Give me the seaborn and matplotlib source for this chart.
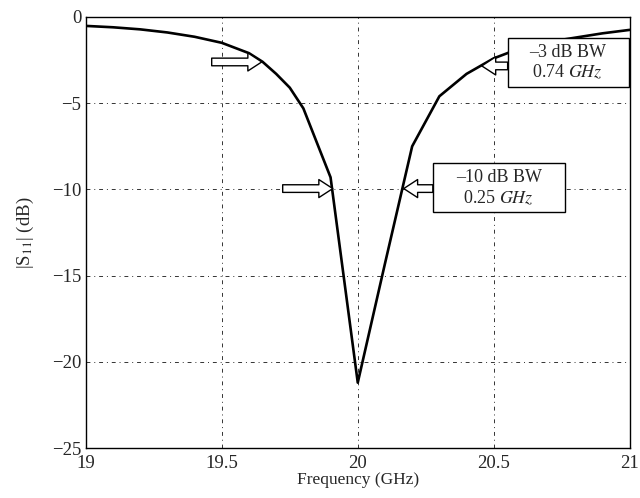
import numpy as np
import pandas as pd
import matplotlib
matplotlib.use('Agg')
import matplotlib.pyplot as plt
import seaborn as sns
from matplotlib.patches import Rectangle

# S11 response
freq = [19.0, 19.1, 19.2, 19.3, 19.4, 19.5, 19.6, 19.65, 19.7, 19.75, 19.8, 19.9,
        20.0, 20.1, 20.2, 20.3, 20.4, 20.5, 20.6, 20.7, 20.8, 20.9, 21.0]
s11 = [-0.52, -0.6, -0.72, -0.9, -1.15, -1.5, -2.1, -2.6, -3.3, -4.1, -5.3, -9.3,
       -21.2, -14.3, -7.5, -4.6, -3.3, -2.4, -1.8, -1.45, -1.2, -0.95, -0.75]
xticks = [19, 19.5, 20, 20.5, 21]
yticks = [0, -5, -10, -15, -20, -25]

df = pd.DataFrame({'Frequency': freq, 'S11': s11})

sns.set_style('white')
plt.rcParams['font.family'] = ['Liberation Serif', 'DejaVu Serif']
plt.rcParams['mathtext.fontset'] = 'stix'

fig, ax = plt.subplots(figsize=(6.4, 4.98), dpi=100)
fig.subplots_adjust(left=0.134, right=0.984, top=0.966, bottom=0.1)

sns.lineplot(data=df, x='Frequency', y='S11', ax=ax, color='black', lw=1.9)

ax.set_xlim(19, 21)
ax.set_ylim(-25, 0)
ax.set_xticks(xticks)
ax.set_xticklabels(['19', '19.5', '20', '20.5', '21'])
ax.set_yticks(yticks)
ax.set_yticklabels(['0', '\u22125', '\u221210', '\u221215', '\u221220', '\u221225'])
ax.tick_params(direction='in', length=5, labelsize=13.5, color='black',
               top=False, right=False)
ax.tick_params(axis='x', pad=5)
ax.tick_params(axis='y', pad=3)
ax.grid(True, linestyle=(0, (4, 4, 1, 4)), color='#333333', lw=0.7)
for sp in ax.spines.values():
    sp.set_color('black')
    sp.set_linewidth(1.0)

ax.set_xlabel('Frequency (GHz)', fontsize=12.5, labelpad=0)
ax.set_ylabel(r'|S$_{11}$| (dB)', fontsize=13.5, labelpad=12)

arrow = dict(arrowstyle='simple,head_width=1.3,head_length=1.0,tail_width=0.55',
             fc='white', ec='black', lw=1.0, shrinkA=0, shrinkB=0)

# plain arrows on the left skirt
ax.annotate('', xy=(19.647, -2.61), xytext=(19.463, -2.61), arrowprops=arrow)
ax.annotate('', xy=(19.908, -9.95), xytext=(19.724, -9.95), arrowprops=arrow)

# boxed labels on the right skirt
ax.add_patch(Rectangle((20.551, -4.06), 0.445, 2.84, fc='white', ec='black', lw=1.0, zorder=4))
ax.text(20.772, -2.63, '\u20133 dB BW\n0.74 $\\mathit{GHz}$', ha='center', va='center',
        fontsize=13, linespacing=1.15, zorder=5)
ax.annotate('', xy=(20.456, -2.84), xytext=(20.551, -2.84), arrowprops=arrow, zorder=5)

ax.add_patch(Rectangle((20.276, -11.31), 0.485, 2.84, fc='white', ec='black', lw=1.0, zorder=4))
ax.text(20.518, -9.92, '\u201310 dB BW\n0.25 $\\mathit{GHz}$', ha='center', va='center',
        fontsize=13, linespacing=1.15, zorder=5)
ax.annotate('', xy=(20.169, -9.95), xytext=(20.276, -9.95), arrowprops=arrow, zorder=5)

fig.savefig('out.png', dpi=100)
